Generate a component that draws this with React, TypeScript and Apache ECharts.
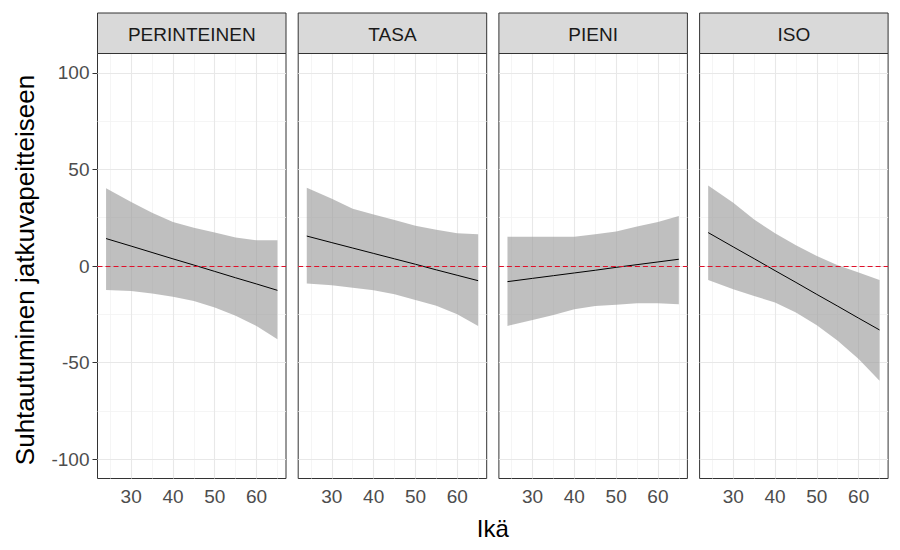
import React, { useEffect, useRef } from "react";
import * as echarts from "echarts";

const AGES = [24, 30, 35, 40, 45, 50, 55, 60, 65];
const PANELS = ["PERINTEINEN", "TASA", "PIENI", "ISO"];

const FIT_PERINTEINEN = [14.2, 10.3, 7.0, 3.7, 0.5, -2.8, -6.1, -9.3, -12.6];
const LOWER_PERINTEINEN = [-12.4, -13.0, -14.2, -15.9, -18.1, -21.5, -25.8, -31.0, -37.9];
const UPPER_PERINTEINEN = [40.2, 33.1, 27.6, 22.8, 19.8, 17.3, 14.7, 13.3, 13.3];

const FIT_TASA = [15.5, 12.1, 9.3, 6.5, 3.7, 0.9, -2.0, -4.8, -7.6];
const LOWER_TASA = [-9.1, -10.0, -11.2, -12.6, -14.6, -17.6, -20.6, -25.0, -31.0];
const UPPER_TASA = [40.5, 34.8, 29.7, 26.6, 23.8, 20.9, 18.8, 16.9, 16.4];

const FIT_PIENI = [-8.1, -6.4, -5.0, -3.6, -2.2, -0.7, 0.7, 2.1, 3.5];
const LOWER_PIENI = [-31.0, -27.9, -25.3, -22.4, -20.7, -20.0, -19.3, -19.3, -19.8];
const UPPER_PIENI = [15.2, 15.2, 15.2, 15.2, 16.4, 17.8, 20.4, 22.8, 25.9];

const FIT_ISO = [17.3, 9.9, 3.8, -2.4, -8.5, -14.7, -20.8, -27.0, -33.1];
const LOWER_ISO = [-7.2, -12.0, -15.5, -18.9, -24.1, -30.7, -38.7, -48.2, -59.4];
const UPPER_ISO = [41.7, 32.8, 24.1, 16.9, 10.7, 5.2, 0.4, -3.4, -7.2];

const FITS = [FIT_PERINTEINEN, FIT_TASA, FIT_PIENI, FIT_ISO];
const LOWERS = [LOWER_PERINTEINEN, LOWER_TASA, LOWER_PIENI, LOWER_ISO];
const UPPERS = [UPPER_PERINTEINEN, UPPER_TASA, UPPER_PIENI, UPPER_ISO];

const X_TICKS = [30, 40, 50, 60];
const X_MINOR = [25, 35, 45, 55, 65];
const Y_TICKS = [-100, -50, 0, 50, 100];
const Y_MINOR = [-75, -25, 25, 75];
const X_MIN = 21.95;
const X_MAX = 67.05;
const Y_MIN = -110;
const Y_MAX = 110;

const X_TITLE = "Ikä";
const Y_TITLE = "Suhtautuminen jatkuvapeitteiseen";

const FONT = "'Liberation Sans', Arial, sans-serif";

export default function App() {
  const ref = useRef<HTMLDivElement>(null);

  useEffect(() => {
    document.body.style.margin = "0";
    if (!ref.current) return;
    const chart = echarts.init(ref.current, undefined, { renderer: "svg" });

    const GRID_LEFT0 = 97.5;
    const GRID_STEP = 200.7;
    const GRID_W = 188.5;
    const GRID_TOP = 53.5;
    const GRID_BOTTOM_Y = 478.5;
    const STRIP_TOP = 13;

    const grids: any[] = [];
    const xAxes: any[] = [];
    const yAxes: any[] = [];
    const series: any[] = [];
    const graphics: any[] = [];

    PANELS.forEach((name, i) => {
      const left = GRID_LEFT0 + i * GRID_STEP;
      grids.push({
        left,
        top: GRID_TOP,
        width: GRID_W,
        height: GRID_BOTTOM_Y - GRID_TOP,
        show: true,
        borderColor: "#333333",
        borderWidth: 1,
        backgroundColor: "#ffffff",
        containLabel: false,
      });
      xAxes.push({
        type: "value",
        gridIndex: i,
        min: X_MIN,
        max: X_MAX,
        axisLine: { show: false },
        splitLine: { show: false },
        axisTick: {
          show: true,
          customValues: X_TICKS,
          length: 5,
          lineStyle: { color: "#333333", width: 1 },
        },
        axisLabel: {
          show: true,
          customValues: X_TICKS,
          color: "#4D4D4D",
          fontSize: 19,
          fontFamily: FONT,
          margin: 8,
        },
      });
      yAxes.push({
        type: "value",
        gridIndex: i,
        min: Y_MIN,
        max: Y_MAX,
        axisLine: { show: false },
        splitLine: { show: false },
        axisTick: {
          show: i === 0,
          customValues: Y_TICKS,
          length: 5,
          lineStyle: { color: "#333333", width: 1 },
        },
        axisLabel: {
          show: i === 0,
          customValues: Y_TICKS,
          color: "#4D4D4D",
          fontSize: 19,
          fontFamily: FONT,
          margin: 8,
        },
      });

      const lower = LOWERS[i];
      const upper = UPPERS[i];
      const fit = FITS[i];

      const gridLines: any[] = [];
      X_MINOR.forEach((v) =>
        gridLines.push({ xAxis: v, lineStyle: { color: "#F2F2F2", width: 0.8, type: "solid" } })
      );
      Y_MINOR.forEach((v) =>
        gridLines.push({ yAxis: v, lineStyle: { color: "#F2F2F2", width: 0.8, type: "solid" } })
      );
      X_TICKS.forEach((v) =>
        gridLines.push({ xAxis: v, lineStyle: { color: "#E8E8E8", width: 1.1, type: "solid" } })
      );
      Y_TICKS.forEach((v) =>
        gridLines.push({ yAxis: v, lineStyle: { color: "#E8E8E8", width: 1.1, type: "solid" } })
      );

      series.push({
        type: "custom",
        xAxisIndex: i,
        yAxisIndex: i,
        data: AGES.map((a, k) => [a, lower[k], upper[k]]),
        encode: { x: 0, y: [1, 2] },
        silent: true,
        z: 2,
        renderItem: (params: any, api: any) => {
          if (params.dataIndex !== 0) return null;
          const pts: number[][] = [];
          for (let k = 0; k < AGES.length; k++) pts.push(api.coord([AGES[k], upper[k]]));
          for (let k = AGES.length - 1; k >= 0; k--) pts.push(api.coord([AGES[k], lower[k]]));
          return {
            type: "polygon",
            shape: { points: pts },
            style: { fill: "rgba(153,153,153,0.63)", stroke: "none" },
          };
        },
        markLine: {
          silent: true,
          symbol: "none",
          label: { show: false },
          z: 1,
          animation: false,
          data: gridLines,
        },
      });
      series.push({
        type: "line",
        xAxisIndex: i,
        yAxisIndex: i,
        data: AGES.map((a, k) => [a, fit[k]]),
        symbol: "none",
        lineStyle: { color: "#000000", width: 1 },
        silent: true,
        z: 3,
        markLine: {
          silent: true,
          symbol: "none",
          label: { show: false },
          z: 4,
          animation: false,
          data: [{ yAxis: 0, lineStyle: { color: "#E0102A", width: 1, type: [5, 3] } }],
        },
      });

      graphics.push({
        type: "rect",
        shape: { x: left, y: STRIP_TOP, width: GRID_W, height: GRID_TOP - STRIP_TOP },
        style: { fill: "#D9D9D9", stroke: "#333333", lineWidth: 1 },
        z: 10,
      });
      graphics.push({
        type: "text",
        x: left + GRID_W / 2,
        y: (STRIP_TOP + GRID_TOP) / 2 + 1,
        style: {
          text: name,
          fill: "#1A1A1A",
          fontSize: 19,
          fontFamily: FONT,
          textAlign: "center",
          textVerticalAlign: "middle",
        },
        z: 11,
      });
    });

    const plotsCenterX = (GRID_LEFT0 + GRID_LEFT0 + 3 * GRID_STEP + GRID_W) / 2;
    graphics.push({
      type: "text",
      x: plotsCenterX,
      y: 528,
      style: {
        text: X_TITLE,
        fill: "#000000",
        fontSize: 24,
        fontFamily: FONT,
        textAlign: "center",
        textVerticalAlign: "middle",
      },
    });
    graphics.push({
      type: "text",
      x: 25,
      y: (GRID_TOP + GRID_BOTTOM_Y) / 2 + 4,
      rotation: Math.PI / 2,
      style: {
        text: Y_TITLE,
        fill: "#000000",
        fontSize: 26,
        fontFamily: FONT,
        textAlign: "center",
        textVerticalAlign: "middle",
      },
    });

    chart.setOption({
      animation: false,
      backgroundColor: "#ffffff",
      grid: grids,
      xAxis: xAxes,
      yAxis: yAxes,
      series,
      graphic: graphics,
    });

    return () => chart.dispose();
  }, []);

  return <div ref={ref} style={{ width: 900, height: 550 }} />;
}
